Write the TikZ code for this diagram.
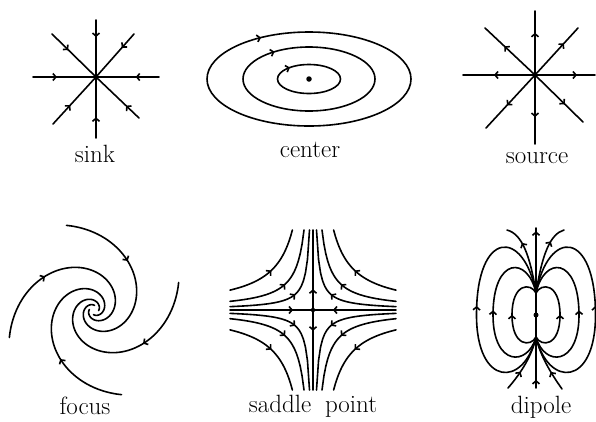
\documentclass[tikz,border=0pt]{standalone}
\usetikzlibrary{arrows.meta,decorations.markings}

\begin{document}
\begin{tikzpicture}[x=1pt,y=-1pt,
  field/.style={line width=1.6pt,line cap=round},
  flow/.style={postaction={decorate},decoration={markings,
      mark=at position #1 with {\arrow{Straight Barb[length=3pt,width=7pt]}}}},
  flow/.default=0.5,
  dot/.style={fill,circle,inner sep=0pt,minimum size=#1},
  dot/.default=5pt,
  lbl/.style={anchor=base,font=\fontsize{25}{30}\selectfont}
]
\useasboundingbox (0,0) rectangle (596,421);

% sink
\node[dot=4pt] (sink) at (96,77) {};
\foreach \e/\p in {{33,77}/0.38,{159,77}/0.37,{96,20}/0.30,{96,138}/0.34,
                   {52,34}/0.37,{134,34}/0.32,{53,124}/0.40,{139,118}/0.30}
  \draw[field,flow=\p] (\e) -- (sink.center);
\node[lbl] (sinklbl) at (95,162) {sink};

% center
\node[dot=5.5pt] (ctr) at (309,79) {};
\foreach \rx/\ry/\p in {102/47/0.65,66/32/0.64,31.5/14.5/0.62}
  \draw[field,flow=\p] (ctr.center) ellipse [x radius=\rx,y radius=\ry];
\node[lbl] (ctrlbl) at (310,157) {center};

% source
\node[dot=4pt] (source) at (535,75) {};
\foreach \e/\p in {{463,75}/0.57,{595,75}/0.70,{535,11}/0.66,{535,144}/0.61,
                   {485,28}/0.61,{578,28}/0.67,{486,128}/0.57,{583,122}/0.62}
  \draw[field,flow=\p] (source.center) -- (\e);
\node[lbl] (sourcelbl) at (537,163) {source};

% focus
\coordinate (focus) at (94,310);
\begin{scope}[shift={(focus)}]
\foreach \a in {108,18,-72,198}
  \draw[field,flow=0.35] plot[domain=0:385,samples=130,variable=\t]
    ({89*exp(-0.44*rad(\t))*cos(\a-\t)},{-89*exp(-0.44*rad(\t))*sin(\a-\t)});
\end{scope}
\node[lbl] (focuslbl) at (85,414) {focus};

% saddle point
\node[dot=4.5pt] (saddle) at (313,310) {};
\coordinate (sW) at (230,310);
\coordinate (sE) at (396,310);
\coordinate (sN) at (313,230);
\coordinate (sS) at (313,390);
\draw[field,flow=0.76] (sW) -- (saddle.center);
\draw[field,flow=0.76] (sE) -- (saddle.center);
\draw[field,flow=0.26] (saddle.center) -- (sN);
\draw[field,flow=0.26] (saddle.center) -- (sS);
\begin{scope}[shift={(saddle)}]
\foreach \sx/\sy in {1/1,1/-1,-1/1,-1/-1}{
  \begin{scope}[xscale=\sx,yscale=\sy]
  \foreach \c in {280,720,1650}{
    \pgfmathsetmacro\xe{\c/80}
    \draw[field,flow=0.5] plot[domain=83:\xe,samples=40,variable=\u] (\u,{\c/\u});
  }
  \end{scope}
}
\end{scope}
\node[lbl] (saddlelbl) at (313,412) {saddle\hskip0.55em point};

% dipole
\node[dot=5pt] (dipole) at (536,315) {};
\coordinate (N) at (536,293);
\coordinate (S) at (536,337);
\draw[field] (N) -- (S);
\begin{scope}[shift={(dipole)}]
\foreach \sx in {1,-1}{
  \begin{scope}[xscale=\sx]
  \foreach \w/\d/\t/\b in {24/5/-32.4/32,43/8/-59/51.7,59.5/12/-86.5/72.5}
    \draw[field,flow=0.5] (0,22) .. controls (-\d,\b) and (-\w,\b) .. (-\w,0)
                                 .. controls (-\w,\t) and (-\d,\t) .. (0,-22);
  \end{scope}
}
\end{scope}
\coordinate (nU) at (536,228);
\coordinate (nL) at (507,230);
\coordinate (nR) at (564,230);
\coordinate (sD) at (536,388);
\coordinate (sL) at (508,388);
\coordinate (sR) at (562,389);
\draw[field,flow=0.95] (N) -- (nU);
\draw[field,flow=0.72] (N) .. controls (530,255) and (522,234) .. (nL);
\draw[field,flow=0.75] (N) .. controls (542,255) and (550,234) .. (nR);
\draw[field,flow=0.16] (sD) -- (S);
\draw[field,flow=0.35] (sL) .. controls (522,372) and (532,355) .. (S);
\draw[field,flow=0.35] (sR) .. controls (550,372) and (540,355) .. (S);
\node[lbl] (dipolelbl) at (541,413) {dipole};
\end{tikzpicture}
\end{document}
